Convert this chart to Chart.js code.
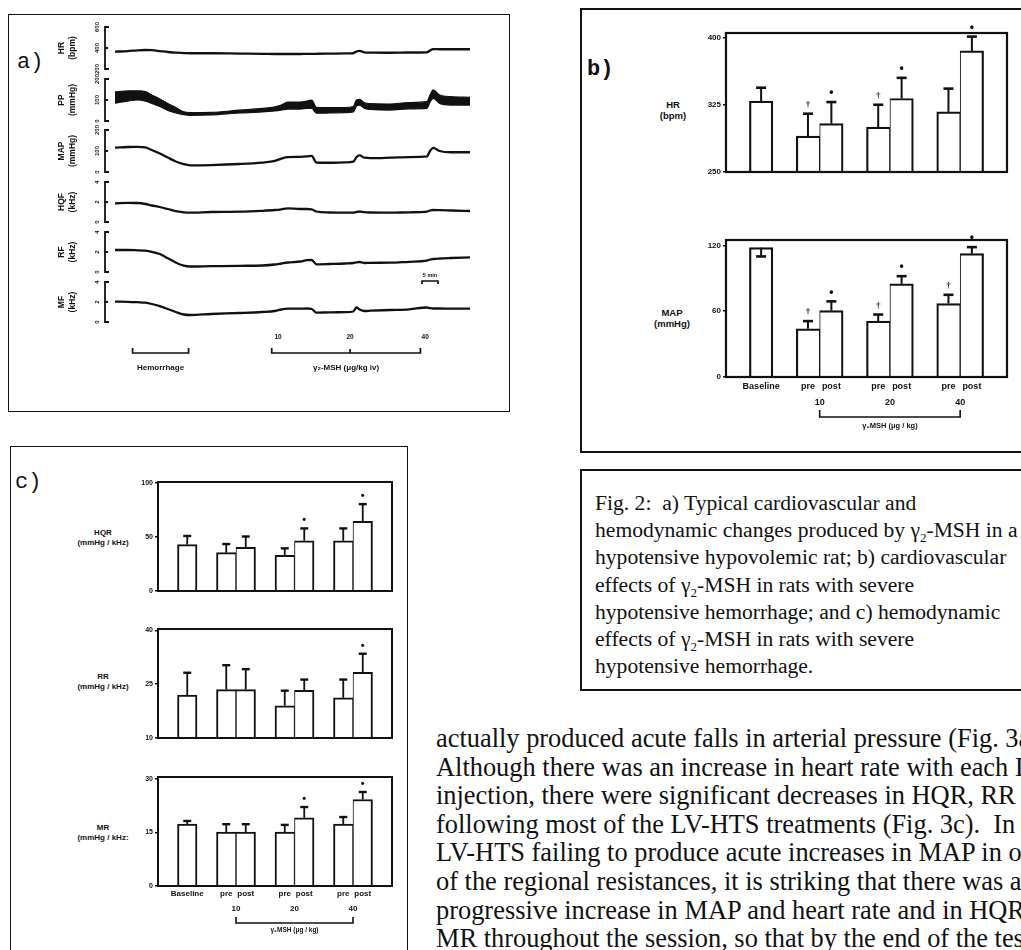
<!DOCTYPE html>
<html><head><meta charset="utf-8">
<script src="https://cdn.jsdelivr.net/npm/chart.js@4.4.1/dist/chart.umd.min.js"></script>
<style>
html,body{margin:0;padding:0;background:#fff;}
body{width:1021px;height:950px;position:relative;overflow:hidden;}
.box{position:absolute;border:2px solid #111;box-sizing:border-box;}
canvas{position:absolute;}
.plab{position:absolute;font-family:"Liberation Mono","DejaVu Sans Mono",monospace;font-size:22px;color:#111;line-height:1;}
.axt{position:absolute;font-family:"Liberation Sans",Arial,sans-serif;font-weight:bold;color:#111;text-align:center;line-height:1.2;white-space:nowrap;transform:translate(-50%,-50%);}
#caption{position:absolute;left:595px;top:490px;font-family:"Liberation Serif","Times New Roman",serif;font-size:21.6px;line-height:27.2px;color:#111;white-space:nowrap;}
#bodytext{position:absolute;left:436px;top:724px;width:585px;overflow:hidden;font-family:"Liberation Serif","Times New Roman",serif;font-size:26.4px;line-height:28.6px;color:#111;white-space:pre;}
</style></head>
<body>
<div class="box" style="left:8px;top:14px;width:502px;height:398px;border-width:1.5px;"></div>
<div class="box" style="left:580px;top:8px;width:460px;height:445px;"></div>
<div class="box" style="left:580px;top:469px;width:460px;height:222px;"></div>
<div class="box" style="left:10px;top:446px;width:398px;height:540px;border-width:1.5px;"></div>

<div class="plab" style="left:17px;top:52px;">a)</div>
<div class="plab" style="left:587px;top:59px;font-weight:bold;">b)</div>
<div class="plab" style="left:15px;top:472px;">c)</div>

<div class="axt" style="left:673px;top:110px;font-size:9.5px;">HR<br>(bpm)</div>
<div class="axt" style="left:672px;top:318px;font-size:9.5px;">MAP<br>(mmHg)</div>
<div class="axt" style="left:103px;top:538px;font-size:8px;">HQR<br>(mmHg / kHz)</div>
<div class="axt" style="left:103px;top:682px;font-size:8px;">RR<br>(mmHg / kHz)</div>
<div class="axt" style="left:103px;top:833px;font-size:8px;">MR<br>(mmHg / kHz:</div>

<div id="caption">Fig. 2:&nbsp; a) Typical cardiovascular and<br>hemodynamic changes produced by γ<sub style="font-size:13px;line-height:0;">2</sub>-MSH in a<br>hypotensive hypovolemic rat; b) cardiovascular<br>effects of γ<sub style="font-size:13px;line-height:0;">2</sub>-MSH in rats with severe<br>hypotensive hemorrhage; and c) hemodynamic<br>effects of γ<sub style="font-size:13px;line-height:0;">2</sub>-MSH in rats with severe<br>hypotensive hemorrhage.</div>

<div id="bodytext">actually produced acute falls in arterial pressure (Fig. 3a).
Although there was an increase in heart rate with each LV-HTS
injection, there were significant decreases in HQR, RR and MR
following most of the LV-HTS treatments (Fig. 3c).  In spite of
LV-HTS failing to produce acute increases in MAP in or any
of the regional resistances, it is striking that there was a
progressive increase in MAP and heart rate and in HQR, RR and
MR throughout the session, so that by the end of the test</div>

<canvas id="cHR" width="440" height="62" style="left:40px;top:17px;"></canvas>
<canvas id="cPP" width="440" height="62" style="left:40px;top:69px;"></canvas>
<canvas id="cMAPt" width="440" height="62" style="left:40px;top:120px;"></canvas>
<canvas id="cHQF" width="440" height="60" style="left:40px;top:172px;"></canvas>
<canvas id="cRF" width="440" height="60" style="left:40px;top:222px;"></canvas>
<canvas id="cMF" width="440" height="150" style="left:40px;top:262px;"></canvas>

<canvas id="bHR" width="325" height="155" style="left:690px;top:25px;"></canvas>
<canvas id="bMAP" width="325" height="221" style="left:690px;top:232px;"></canvas>

<canvas id="cHQR" width="290" height="125" style="left:110px;top:474px;"></canvas>
<canvas id="cRR" width="290" height="125" style="left:110px;top:621px;"></canvas>
<canvas id="cMR" width="290" height="181" style="left:110px;top:769px;"></canvas>

<script>
// ---------------- DATA ----------------
// panel a: time (min) and trace values
const traceTime = [0, 4, 7, 9.5, 11.5, 14, 16.5, 19, 21.5, 23.5, 30, 39, 46, 50, 52, 54, 58, 60, 61.5, 63, 67, 72, 74.5, 75.5, 76.5, 78, 80, 86, 92, 97.5, 98.5, 99.5, 101.5, 105, 111];
const hrTrace  = [365, 371, 378, 381, 379, 371, 362, 355, 352, 350, 350, 347, 345, 343, 343, 343, 343, 345, 345, 345, 346, 348, 350, 367, 373, 359, 356, 355, 357, 359, 376, 390, 388, 388, 388];
const ppHigh   = [139, 143, 144, 140, 124, 105, 83, 64, 44, 40, 41, 52, 60, 67, 76, 90, 90, 95, 100, 65, 64, 64, 69, 100, 103, 87, 83, 81, 88, 92, 124, 148, 124, 116, 113];
const ppLow    = [85, 95, 100, 95, 84, 69, 50, 39, 30, 27, 29, 38, 43, 48, 52, 57, 57, 60, 60, 37, 38, 40, 43, 71, 76, 60, 55, 52, 58, 60, 90, 108, 84, 76, 76];
const mapTrace = [116, 119, 120, 117, 105, 88, 69, 50, 37, 32, 33, 38, 45, 53, 64, 71, 72, 74, 77, 45, 44, 46, 49, 71, 79, 68, 66, 68, 71, 74, 100, 115, 100, 94, 94];
const hqfTrace = [1.87, 1.92, 1.90, 1.80, 1.65, 1.50, 1.30, 1.08, 0.97, 0.93, 1.00, 1.03, 1.12, 1.20, 1.27, 1.37, 1.30, 1.30, 1.27, 1.05, 0.95, 0.93, 0.93, 1.00, 1.05, 0.98, 0.95, 0.93, 0.97, 1.03, 1.15, 1.20, 1.18, 1.15, 1.10];
const rfTrace  = [2.20, 2.20, 2.17, 2.13, 2.02, 1.80, 1.37, 0.95, 0.63, 0.55, 0.58, 0.62, 0.65, 0.75, 0.85, 0.95, 1.05, 1.18, 1.20, 0.77, 0.80, 0.85, 0.90, 0.97, 1.00, 0.90, 0.92, 0.93, 1.02, 1.13, 1.25, 1.30, 1.35, 1.40, 1.47];
const mfTrace  = [2.03, 2.02, 1.98, 1.93, 1.80, 1.58, 1.30, 1.00, 0.75, 0.70, 0.80, 0.90, 1.00, 1.10, 1.25, 1.33, 1.33, 1.35, 1.30, 0.93, 0.97, 0.98, 1.05, 1.45, 1.25, 1.10, 1.13, 1.20, 1.27, 1.45, 1.38, 1.35, 1.35, 1.34, 1.33];
const hrTicksA  = [200, 400, 600];
const ppTicksA  = [0, 100, 200];
const mapTicksA = [0, 100, 200];
const kHzTicksA = [0, 2, 4];
const doseTimes = [51, 73.5, 97];
const doseLabels = ["10", "20", "40"];
const hemorrhageSpan = [5.5, 23];
const mshSpan = [49, 95.5];
const scaleBarSpan = [96, 101];

// panels b and c
const conditions = ["Baseline", "pre", "post", "pre", "post", "pre", "post"];
const groupSizes = [1, 2, 2, 2];
const hrMean  = [329, 290, 304, 300, 332, 317, 385];
const hrErr   = [15, 25, 24, 25, 23, 26, 16];
const hrSig   = ["", "†", "•", "†", "•", "", "•"];
const mapMean = [118, 44, 60.5, 51, 85, 67, 112.5];
const mapErr  = [-8, 7, 8.5, 6, 7, 8, 6];
const mapSig  = ["", "†", "•", "†", "•", "†", "•"];
const hqrMean = [43, 35.5, 40.5, 33, 46.5, 46.5, 64.5];
const hqrErr  = [8, 8, 10, 6.5, 11.5, 11.5, 16];
const hqrSig  = ["", "", "", "", "•", "", "•"];
const rrMean  = [22, 23.5, 23.5, 19, 23.3, 21.2, 28.3];
const rrErr   = [6.2, 6.8, 5.7, 4.2, 3.0, 5.1, 5.2];
const rrSig   = ["", "", "", "", "", "", "•"];
const mrMean  = [17.3, 15.1, 15.1, 15.1, 19.1, 17.3, 24.2];
const mrErr   = [0.9, 2.2, 2.2, 2.0, 3.0, 2.0, 2.1];
const mrSig   = ["", "", "", "", "•", "", "•"];
const hrTicks  = [250, 325, 400];
const mapTicks = [0, 60, 120];
const hqrTicks = [0, 50, 100];
const rrTicks  = [10, 25, 40];
const mrTicks  = [0, 15, 30];
const doseAxisTitle = "γ₂MSH (μg / kg)";

// ---------------- HELPERS ----------------
const INK = '#111';
const SANS = '"Liberation Sans", "DejaVu Sans", Arial, sans-serif';

// slot layout with spacer categories between groups
const slotLabels = [''];
const slotOf = [];
{
  let k = 0;
  groupSizes.forEach(g => {
    for (let j = 0; j < g; j++) { slotOf.push(slotLabels.length); slotLabels.push(conditions[k++]); }
    slotLabels.push('');
  });
}
const padded = arr => { const out = slotLabels.map(() => null); slotOf.forEach((s, i) => out[s] = arr[i]); return out; };
const doseSlots = [[slotOf[1], slotOf[2]], [slotOf[3], slotOf[4]], [slotOf[5], slotOf[6]]];

const toXY = arr => traceTime.map((t, i) => ({x: t, y: arr[i]}));

const tracePlugin = {
  id: 'traceDeco',
  afterDraw(chart, args, o) {
    const {ctx, chartArea: a} = chart; const y = chart.scales.y;
    ctx.save(); ctx.strokeStyle = INK; ctx.fillStyle = INK;
    const bx = a.left - 10;
    ctx.lineWidth = 1.8;
    ctx.beginPath();
    const yt = y.getPixelForValue(o.ticks[2]), yb = y.getPixelForValue(o.ticks[0]), ym = y.getPixelForValue(o.ticks[1]);
    ctx.moveTo(bx + 4, yt); ctx.lineTo(bx, yt); ctx.lineTo(bx, yb); ctx.lineTo(bx + 4, yb);
    ctx.moveTo(bx, ym); ctx.lineTo(bx + 3, ym);
    ctx.stroke();
    o.ticks.forEach(v => {
      const py = y.getPixelForValue(v);
      ctx.save(); ctx.translate(a.left - 18, py); ctx.rotate(-Math.PI / 2);
      ctx.font = 'bold 6px ' + SANS; ctx.textAlign = 'center'; ctx.textBaseline = 'middle';
      ctx.fillText(String(v), 0, 0); ctx.restore();
    });
    const mid = (yt + yb) / 2;
    o.title.forEach((t, k) => {
      ctx.save(); ctx.translate(a.left - 53 + k * 10.5, mid); ctx.rotate(-Math.PI / 2);
      ctx.font = 'bold 8.5px ' + SANS; ctx.textAlign = 'center'; ctx.textBaseline = 'middle';
      ctx.fillText(t, 0, 0); ctx.restore();
    });
    if (o.annotate) {
      const x = chart.scales.x;
      ctx.lineWidth = 1.7;
      const s0 = x.getPixelForValue(scaleBarSpan[0]), s1 = x.getPixelForValue(scaleBarSpan[1]);
      const sy = a.top - 1;
      ctx.beginPath(); ctx.moveTo(s0, sy + 3); ctx.lineTo(s0, sy); ctx.lineTo(s1, sy); ctx.lineTo(s1, sy + 3); ctx.stroke();
      ctx.font = 'bold 5.5px ' + SANS; ctx.textAlign = 'center'; ctx.textBaseline = 'middle';
      ctx.fillText('5 min', (s0 + s1) / 2, sy - 6);
      ctx.font = 'bold 6.5px ' + SANS;
      doseTimes.forEach((t, i) => ctx.fillText(doseLabels[i], x.getPixelForValue(t), a.bottom + 15));
      const by = a.bottom + 31;
      const h0 = x.getPixelForValue(hemorrhageSpan[0]), h1 = x.getPixelForValue(hemorrhageSpan[1]);
      ctx.beginPath(); ctx.moveTo(h0, by - 5); ctx.lineTo(h0, by); ctx.lineTo(h1, by); ctx.lineTo(h1, by - 5); ctx.stroke();
      const m0 = x.getPixelForValue(mshSpan[0]), m1 = x.getPixelForValue(mshSpan[1]), mm = x.getPixelForValue(doseTimes[1]);
      ctx.beginPath(); ctx.moveTo(m0, by - 5); ctx.lineTo(m0, by); ctx.lineTo(m1, by); ctx.lineTo(m1, by - 5);
      ctx.moveTo(mm, by); ctx.lineTo(mm, by - 4); ctx.stroke();
      ctx.font = 'bold 8px ' + SANS;
      ctx.fillText('Hemorrhage', (h0 + h1) / 2, by + 15);
      ctx.fillText('γ₂-MSH (μg/kg iv)', (m0 + m1) / 2, by + 15);
    }
    ctx.restore();
  }
};

function traceChart(id, datasets, ticks, title, pad, annotate) {
  new Chart(document.getElementById(id), {
    type: 'line',
    data: {datasets},
    options: {
      responsive: false, animation: false, devicePixelRatio: 1,
      layout: {padding: pad},
      scales: {
        x: {type: 'linear', min: traceTime[0], max: traceTime[traceTime.length - 1], display: false},
        y: {type: 'linear', min: ticks[0], max: ticks[2], display: false}
      },
      plugins: {legend: {display: false}, tooltip: {enabled: false},
        traceDeco: {ticks, title, annotate}},
      elements: {point: {radius: 0}, line: {borderColor: INK, borderWidth: 2.3, cubicInterpolationMode: 'monotone'}}
    },
    plugins: [tracePlugin]
  });
}
const tpad = {left: 75, right: 10, top: 10, bottom: 10};
traceChart('cHR', [{data: toXY(hrTrace), fill: false}], hrTicksA, ['HR', '(bpm)'], tpad);
traceChart('cPP', [
  {data: toXY(ppHigh), fill: false, borderWidth: 1.2},
  {data: toXY(ppLow), fill: '-1', backgroundColor: INK, borderWidth: 1.2}
], ppTicksA, ['PP', '(mmHg)'], tpad);
traceChart('cMAPt', [{data: toXY(mapTrace), fill: false}], mapTicksA, ['MAP', '(mmHg)'], tpad);
traceChart('cHQF', [{data: toXY(hqfTrace), fill: false}], kHzTicksA, ['HQF', '(kHz)'], tpad);
traceChart('cRF', [{data: toXY(rfTrace), fill: false}], kHzTicksA, ['RF', '(kHz)'], tpad);
traceChart('cMF', [{data: toXY(mfTrace), fill: false}], kHzTicksA, ['MF', '(kHz)'], {left: 75, right: 10, top: 20, bottom: 90}, true);

// ---------------- BAR CHARTS ----------------
const errPlugin = {
  id: 'errDeco',
  afterDatasetsDraw(chart, args, o) {
    const {ctx, chartArea: a} = chart; const y = chart.scales.y; const x = chart.scales.x;
    const meta = chart.getDatasetMeta(0); const vals = chart.data.datasets[0].data;
    ctx.save(); ctx.strokeStyle = INK; ctx.fillStyle = INK;
    o.err.forEach((e, i) => {
      if (e == null || vals[i] == null) return;
      const bar = meta.data[i];
      const yTop = y.getPixelForValue(vals[i]);
      const yE = y.getPixelForValue(vals[i] + e);
      ctx.lineWidth = o.lw;
      ctx.beginPath(); ctx.moveTo(bar.x, yTop); ctx.lineTo(bar.x, yE); ctx.stroke();
      ctx.lineWidth = o.lw + 0.6;
      ctx.beginPath(); ctx.moveTo(bar.x - o.cap, yE); ctx.lineTo(bar.x + o.cap, yE); ctx.stroke();
      const s = o.sig[i];
      if (s) {
        ctx.textAlign = 'center'; ctx.textBaseline = 'middle';
        ctx.font = (s === '†' ? 'bold ' + o.sigSize + 'px "Liberation Serif", serif' : 'bold ' + (o.sigSize + 3) + 'px ' + SANS);
        ctx.fillText(s, bar.x, Math.min(yE, yTop) - o.sigGap);
      }
    });
    ctx.lineWidth = o.frame;
    ctx.strokeRect(a.left, a.top, a.right - a.left, a.bottom - a.top);
    if (o.doses) {
      const d = o.doses;
      const cx = doseSlots.map(p => (x.getPixelForValue(p[0]) + x.getPixelForValue(p[1])) / 2);
      ctx.textAlign = 'center'; ctx.textBaseline = 'middle';
      ctx.font = 'bold ' + d.font + 'px ' + SANS;
      cx.forEach((px, i) => ctx.fillText(doseLabels[i], px, a.bottom + d.lab));
      const by = a.bottom + d.br;
      ctx.lineWidth = 1.6;
      ctx.beginPath(); ctx.moveTo(cx[0], by - d.tick); ctx.lineTo(cx[0], by); ctx.lineTo(cx[2], by); ctx.lineTo(cx[2], by - d.tick); ctx.stroke();
      ctx.font = 'bold ' + d.tfont + 'px ' + SANS;
      ctx.fillText(doseAxisTitle, (cx[0] + cx[2]) / 2, a.bottom + d.title);
    }
    ctx.restore();
  }
};

function barChart(id, mean, err, sig, ticks, yMax, opt) {
  new Chart(document.getElementById(id), {
    type: 'bar',
    data: {labels: slotLabels, datasets: [{
      data: padded(mean), backgroundColor: '#fff', borderColor: INK,
      borderWidth: c => slotLabels[c.dataIndex] === 'pre' ? {top: opt.bw, left: opt.bw, right: 1, bottom: 0}
                       : slotLabels[c.dataIndex] === 'post' ? {top: opt.bw, left: 1, right: opt.bw, bottom: 0}
                       : {top: opt.bw, left: opt.bw, right: opt.bw, bottom: 0},
      borderSkipped: false, barPercentage: 1, categoryPercentage: 1
    }]},
    options: {
      responsive: false, animation: false, devicePixelRatio: 1,
      layout: {padding: opt.pad},
      scales: {
        x: {type: 'category', grid: {display: false, drawTicks: false}, border: {display: false},
            ticks: {display: opt.showX, autoSkip: false, maxRotation: 0, minRotation: 0, color: INK, padding: opt.xpad,
                    font: {family: SANS, weight: 'bold', size: opt.xfont}},
            afterFit: s => { s.height = opt.showX ? opt.xh : 0; }},
        y: {type: 'linear', min: ticks[0], max: yMax,
            afterBuildTicks: s => { s.ticks = ticks.map(v => ({value: v})); },
            grid: {display: true, drawOnChartArea: false, drawTicks: true, tickLength: 3, color: INK, lineWidth: 1.5},
            border: {display: false},
            ticks: {color: INK, padding: 2, font: {family: SANS, weight: 'bold', size: opt.yfont}},
            afterFit: s => { s.width = opt.yw; }}
      },
      plugins: {legend: {display: false}, tooltip: {enabled: false},
        errDeco: {err: padded(err), sig: padded(sig), lw: opt.lw, cap: opt.cap, sigGap: opt.sigGap, sigSize: opt.sigSize, frame: opt.frame, doses: opt.doses}}
    },
    plugins: [errPlugin]
  });
}

const bOpt = {bw: 2.2, lw: 2, cap: 5, sigGap: 9, sigSize: 9, frame: 2.2, yw: 36, yfont: 8, xfont: 9, xpad: 4, xh: 16};
barChart('bHR', hrMean, hrErr, hrSig, hrTicks, 405, Object.assign({}, bOpt, {showX: false, pad: {left: 0, right: 8, top: 8, bottom: 8}}));
barChart('bMAP', mapMean, mapErr, mapSig, mapTicks, 125, Object.assign({}, bOpt, {showX: true, pad: {left: 0, right: 8, top: 8, bottom: 60},
  doses: {font: 9, lab: 26, br: 40, tick: 7, tfont: 7.5, title: 49}}));

const cOpt = {bw: 2, lw: 1.8, cap: 4, sigGap: 8, sigSize: 8, frame: 2, yw: 48, yfont: 7, xfont: 8, xpad: 3, xh: 15};
barChart('cHQR', hqrMean, hqrErr, hqrSig, hqrTicks, 101, Object.assign({}, cOpt, {showX: false, pad: {left: 0, right: 8, top: 8, bottom: 8}}));
barChart('cRR', rrMean, rrErr, rrSig, rrTicks, 40.4, Object.assign({}, cOpt, {showX: false, pad: {left: 0, right: 8, top: 8, bottom: 8}}));
barChart('cMR', mrMean, mrErr, mrSig, mrTicks, 30.5, Object.assign({}, cOpt, {showX: true, pad: {left: 0, right: 8, top: 8, bottom: 49},
  doses: {font: 8, lab: 23, br: 37, tick: 6, tfont: 6.5, title: 44}}));
</script>
</body></html>
